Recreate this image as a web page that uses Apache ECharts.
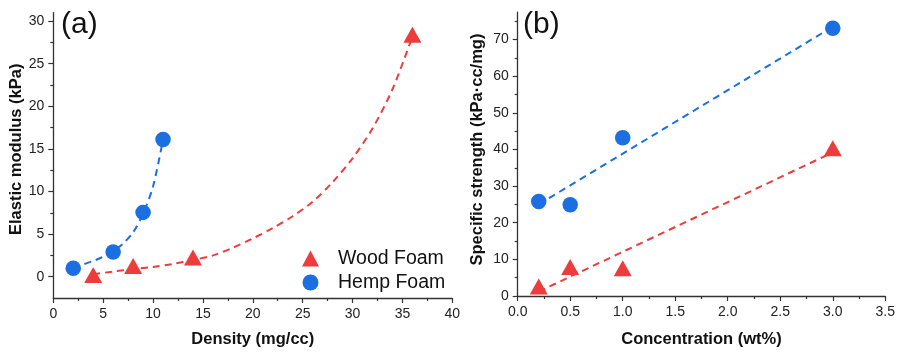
<!DOCTYPE html>
<html>
<head>
<meta charset="utf-8">
<script src="https://cdn.jsdelivr.net/npm/echarts@6/dist/echarts.min.js"></script>
<style>
  html, body { margin: 0; padding: 0; background: #fff; }
  #chart { width: 898px; height: 353px; }
</style>
</head>
<body>
<div id="chart"></div>
<script>
// (a) Elastic modulus vs density
const densityWood = [4, 8, 14, 36];
const modulusWood = [0.2, 1.25, 2.25, 28.4];
const densityHemp = [2, 6, 9, 11];
const modulusHemp = [1.0, 2.9, 7.55, 16.1];

// (a) exponential trend curves
const woodTrendX = [4, 6, 8, 10, 12, 14, 16, 18, 20, 22, 24, 26, 28, 30, 32, 34, 36];
const woodTrendY = [0.3, 0.6, 0.9, 1.15, 1.5, 1.95, 2.5, 3.4, 4.5, 5.7, 7.1, 8.8, 11.1, 13.9, 17.4, 22.0, 28.2];
const hempTrendX = [2, 3, 4, 5, 6, 7, 8, 9, 10, 11];
const hempTrendY = [1.0, 1.45, 1.85, 2.35, 3.0, 3.9, 5.2, 7.4, 10.6, 16.1];

// (b) Specific strength vs concentration
const concWood = [0.2, 0.5, 1.0, 3.0];
const strengthWood = [2.6, 7.9, 7.6, 40.3];
const concHemp = [0.2, 0.5, 1.0, 3.0];
const strengthHemp = [25.8, 24.9, 43.2, 73.1];

// (b) linear trend lines (end points)
const woodLineX = [0.2, 3.0];
const woodLineY = [1.2, 39.2];
const hempLineX = [0.2, 3.0];
const hempLineY = [25.0, 73.5];

// tick values
const modulusMajor = [0, 5, 10, 15, 20, 25, 30];
const modulusMinor = [2.5, 7.5, 12.5, 17.5, 22.5, 27.5];
const strengthMajor = [0, 10, 20, 30, 40, 50, 60, 70];
const strengthMinor = [5, 15, 25, 35, 45, 55, 65, 75];

const BLUE = '#1c6fe0';
const RED = '#ee3b3b';
const AXIS = '#333333';
const FONT = '"Liberation Sans", Arial, Helvetica, sans-serif';

const zip = (xs, ys) => xs.map((x, i) => [x, ys[i]]);

const axisLine = { show: true, onZero: false, lineStyle: { color: AXIS, width: 1.3 } };
const tickLabel = { color: '#222', fontSize: 14, fontFamily: FONT };
const nameStyle = (pad) => ({ color: '#111', fontSize: 16.5, fontWeight: 'bold', fontFamily: FONT, padding: pad });
const labelTitle = { fontSize: 30, fontWeight: 'normal', color: '#111', fontFamily: FONT };

const chart = echarts.init(document.getElementById('chart'), null, { renderer: 'canvas' });

chart.setOption({
  animation: false,
  backgroundColor: '#fff',
  textStyle: { fontFamily: FONT },
  title: [
    { text: '(a)', left: 61, top: 10, padding: 0, textStyle: labelTitle },
    { text: '(b)', left: 523, top: 10, padding: 0, textStyle: labelTitle }
  ],
  legend: {
    data: ['Wood Foam', 'Hemp Foam'],
    orient: 'vertical',
    left: 302,
    top: 248.5,
    padding: 0,
    itemWidth: 17,
    itemHeight: 16,
    itemGap: 4,
    symbolKeepAspect: true,
    textStyle: { fontSize: 19.5, color: '#111', fontFamily: FONT, lineHeight: 20, padding: [0, 0, 0, 14] }
  },
  grid: [
    { left: 53.3, top: 12.6, width: 399, height: 285.9 },
    { left: 517.7, top: 12.1, width: 368.3, height: 287.9 }
  ],
  xAxis: [
    {
      gridIndex: 0, type: 'value', min: 0, max: 40, interval: 5,
      axisLine: axisLine,
      axisTick: { show: true, inside: false, length: 5, lineStyle: { color: AXIS, width: 1.2 } },
      minorTick: { show: true, splitNumber: 2, length: 3, lineStyle: { color: AXIS, width: 1.2 } },
      splitLine: { show: false },
      axisLabel: Object.assign({ margin: 9 }, tickLabel),
      name: 'Density (mg/cc)', nameLocation: 'middle', nameGap: 33, nameTextStyle: nameStyle(0)
    },
    {
      gridIndex: 1, type: 'value', min: 0, max: 3.5, interval: 0.5,
      axisLine: axisLine,
      axisTick: { show: true, inside: false, length: 5, lineStyle: { color: AXIS, width: 1.2 } },
      minorTick: { show: true, splitNumber: 2, length: 3, lineStyle: { color: AXIS, width: 1.2 } },
      splitLine: { show: false },
      axisLabel: Object.assign({ margin: 9, formatter: v => v.toFixed(1) }, tickLabel),
      name: 'Concentration (wt%)', nameLocation: 'middle', nameGap: 35, nameTextStyle: nameStyle(0)
    }
  ],
  yAxis: [
    {
      gridIndex: 0, type: 'value', min: -2.5, max: 31, position: 'left',
      axisLine: axisLine,
      axisTick: { show: true, inside: false, length: 5, customValues: modulusMajor, lineStyle: { color: AXIS, width: 1.2 } },
      axisLabel: Object.assign({ margin: 9, customValues: modulusMajor }, tickLabel),
      splitLine: { show: false },
      name: 'Elastic modulus (kPa)', nameLocation: 'middle', nameGap: 28.5, nameTextStyle: nameStyle([0, 0, 0, 12])
    },
    {
      gridIndex: 0, type: 'value', min: -2.5, max: 31, position: 'left', offset: 0,
      axisLine: { show: false, onZero: false },
      axisTick: { show: true, inside: false, length: 3, customValues: modulusMinor, lineStyle: { color: AXIS, width: 1.2 } },
      axisLabel: { show: false },
      splitLine: { show: false }
    },
    {
      gridIndex: 1, type: 'value', min: 0, max: 77.5, position: 'left',
      axisLine: axisLine,
      axisTick: { show: true, inside: false, length: 5, customValues: strengthMajor, lineStyle: { color: AXIS, width: 1.2 } },
      axisLabel: Object.assign({ margin: 9, customValues: strengthMajor }, tickLabel),
      splitLine: { show: false },
      name: 'Specific strength (kPa\u00b7cc/mg)', nameLocation: 'middle', nameGap: 31.5, nameTextStyle: nameStyle([0, 0, 0, 9])
    },
    {
      gridIndex: 1, type: 'value', min: 0, max: 77.5, position: 'left', offset: 0,
      axisLine: { show: false, onZero: false },
      axisTick: { show: true, inside: false, length: 3, customValues: strengthMinor, lineStyle: { color: AXIS, width: 1.2 } },
      axisLabel: { show: false },
      splitLine: { show: false }
    }
  ],
  series: [
    {
      name: 'Wood trend (a)', type: 'line', xAxisIndex: 0, yAxisIndex: 0,
      data: zip(woodTrendX, woodTrendY), smooth: 0.3, symbol: 'none', z: 2,
      lineStyle: { color: RED, width: 2, type: [7, 5] }
    },
    {
      name: 'Hemp trend (a)', type: 'line', xAxisIndex: 0, yAxisIndex: 0,
      data: zip(hempTrendX, hempTrendY), smooth: 0.3, symbol: 'none', z: 2,
      lineStyle: { color: BLUE, width: 2, type: [7, 5] }
    },
    {
      name: 'Wood Foam', type: 'scatter', xAxisIndex: 0, yAxisIndex: 0,
      data: zip(densityWood, modulusWood), symbol: 'triangle', symbolSize: [18, 16], z: 5,
      itemStyle: { color: RED, opacity: 1 }
    },
    {
      name: 'Hemp Foam', type: 'scatter', xAxisIndex: 0, yAxisIndex: 0,
      data: zip(densityHemp, modulusHemp), symbol: 'circle', symbolSize: 15.5, z: 5,
      itemStyle: { color: BLUE, opacity: 1 }
    },
    {
      name: 'Wood trend (b)', type: 'line', xAxisIndex: 1, yAxisIndex: 2,
      data: zip(woodLineX, woodLineY), symbol: 'none', z: 2,
      lineStyle: { color: RED, width: 2, type: [7, 5] }
    },
    {
      name: 'Hemp trend (b)', type: 'line', xAxisIndex: 1, yAxisIndex: 2,
      data: zip(hempLineX, hempLineY), symbol: 'none', z: 2,
      lineStyle: { color: BLUE, width: 2, type: [7, 5] }
    },
    {
      name: 'Wood Foam', type: 'scatter', xAxisIndex: 1, yAxisIndex: 2,
      data: zip(concWood, strengthWood), symbol: 'triangle', symbolSize: [18, 16], z: 5,
      itemStyle: { color: RED, opacity: 1 }
    },
    {
      name: 'Hemp Foam', type: 'scatter', xAxisIndex: 1, yAxisIndex: 2,
      data: zip(concHemp, strengthHemp), symbol: 'circle', symbolSize: 15.5, z: 5,
      itemStyle: { color: BLUE, opacity: 1 }
    }
  ]
});
</script>
</body>
</html>
